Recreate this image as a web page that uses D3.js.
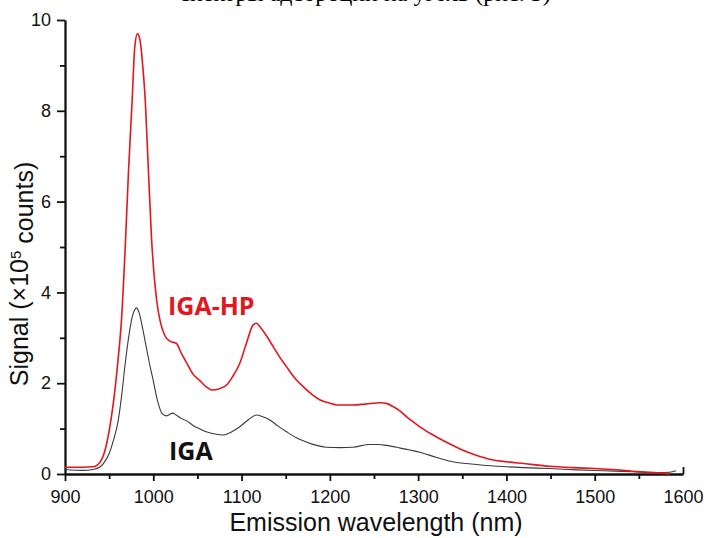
<!DOCTYPE html>
<html>
<head>
<meta charset="utf-8">
<script src="https://cdn.jsdelivr.net/npm/d3@7"></script>
<style>
  body { margin: 0; background: #fff; }
  svg { display: block; font-family: "Liberation Sans", Arial, sans-serif; }
</style>
</head>
<body>
<svg id="chart" width="707" height="538"></svg>
<script>
// IGA-HP spectrum (red), signal in 1e5 counts
const hpWavelength = [900, 920, 932, 938, 945, 950, 955, 960, 964, 968, 972, 976, 979, 982, 985, 988, 991, 994, 998, 1004, 1008, 1013, 1019, 1026, 1032, 1038, 1045, 1053, 1060, 1066, 1075, 1083, 1090, 1098, 1105, 1113, 1117, 1121, 1128, 1136, 1143, 1151, 1160, 1170, 1180, 1189, 1200, 1208, 1226, 1240, 1257, 1265, 1272, 1280, 1287, 1295, 1302, 1315, 1325, 1336, 1350, 1365, 1375, 1385, 1400, 1420, 1449, 1475, 1500, 1520, 1543, 1560, 1575, 1585]
const hpSignal = [0.15, 0.15, 0.16, 0.22, 0.5, 0.95, 1.6, 2.5, 3.4, 4.9, 6.7, 8.2, 9.4, 9.7, 9.55, 9.0, 8.2, 6.9, 5.2, 3.8, 3.35, 3.05, 2.92, 2.88, 2.65, 2.44, 2.2, 2.05, 1.92, 1.85, 1.88, 1.96, 2.15, 2.44, 2.85, 3.28, 3.32, 3.24, 3.05, 2.8, 2.58, 2.36, 2.12, 1.92, 1.75, 1.63, 1.56, 1.52, 1.52, 1.54, 1.57, 1.55, 1.48, 1.38, 1.26, 1.14, 1.04, 0.88, 0.77, 0.66, 0.53, 0.42, 0.36, 0.31, 0.27, 0.23, 0.17, 0.14, 0.12, 0.1, 0.06, 0.04, 0.02, 0.0]

// IGA spectrum (black)
const igaWavelength = [900, 920, 932, 940, 946, 950, 955, 960, 964, 968, 972, 976, 979, 981, 984, 988, 991, 995, 1000, 1005, 1010, 1015, 1022, 1026, 1032, 1038, 1045, 1052, 1060, 1070, 1079, 1088, 1098, 1108, 1117, 1124, 1132, 1141, 1151, 1162, 1174, 1185, 1196, 1212, 1226, 1245, 1255, 1264, 1280, 1302, 1320, 1336, 1360, 1390, 1420, 1449, 1480, 1510, 1543, 1570, 1585, 1592]
const igaSignal = [0.1, 0.08, 0.1, 0.16, 0.3, 0.45, 0.75, 1.15, 1.7, 2.4, 3.0, 3.45, 3.62, 3.66, 3.55, 3.2, 2.9, 2.5, 2.05, 1.6, 1.33, 1.28, 1.34, 1.3, 1.22, 1.17, 1.07, 1.0, 0.93, 0.88, 0.86, 0.92, 1.04, 1.2, 1.3, 1.26, 1.19, 1.06, 0.93, 0.8, 0.7, 0.63, 0.59, 0.58, 0.59, 0.65, 0.65, 0.63, 0.57, 0.48, 0.37, 0.28, 0.22, 0.17, 0.14, 0.12, 0.09, 0.07, 0.05, 0.03, 0.04, 0.07]

const xTicks = [900, 1000, 1100, 1200, 1300, 1400, 1500, 1600]
const xMinorTicks = [950, 1050, 1150, 1250, 1350, 1450, 1550]
const yTicks = [0, 2, 4, 6, 8, 10]
const yMinorTicks = [1, 3, 5, 7, 9]
const seriesNames = ["IGA-HP", "IGA"]

const width = 707
const height = 538
const margin = {top: 20, right: 24, bottom: 64, left: 65}

const $svg = d3.select("#chart")

const x = d3.scaleLinear()
    .domain([900, 1600])
    .range([margin.left, width - margin.right])

const y = d3.scaleLinear()
    .domain([0, 10])
    .range([height - margin.bottom, margin.top])

// cropped caption line from the page above the figure
$svg.append("text")
    .attr("x", 365)
    .attr("y", 1)
    .attr("text-anchor", "middle")
    .style("font-family", "'Liberation Serif', serif")
    .style("font-size", "24px")
    .text("спектры адсорбции на уголь (рис. 3)")

//axes
const xAxis = g => g.attr("transform", `translate(0, ${y(0)})`)
    .call(d3.axisBottom(x).tickValues(xTicks).tickSize(7).tickSizeOuter(0).tickPadding(9).tickFormat(d3.format("d")))

const xMinor = g => g.attr("transform", `translate(0, ${y(0)})`)
    .call(d3.axisBottom(x).tickValues(xMinorTicks).tickSize(5).tickSizeOuter(0).tickFormat(""))

const yAxis = g => g.attr("transform", `translate(${x(900)}, 0)`)
    .call(d3.axisLeft(y).tickValues(yTicks).tickSize(8).tickSizeOuter(0).tickPadding(6))

const yMinor = g => g.attr("transform", `translate(${x(900)}, 0)`)
    .call(d3.axisLeft(y).tickValues(yMinorTicks).tickSize(5).tickSizeOuter(0).tickFormat(""))

$svg.append("g").call(xMinor)
$svg.append("g").call(yMinor)
const $xAxis = $svg.append("g").call(xAxis)
$svg.append("g").call(yAxis)

// last tick on the x axis points upward
$xAxis.selectAll(".tick")
    .filter(d => d === 1600)
    .select("line")
    .attr("y2", -7)

$svg.selectAll(".domain, .tick line")
    .attr("stroke", "#111")
    .attr("stroke-width", 1.8)

$svg.selectAll(".tick text")
    .attr("fill", "#111")
    .style("font-size", "18px")
    .style("font-family", "'Liberation Sans', Arial, sans-serif")

//axis titles
$svg.append("text")
    .attr("x", 376)
    .attr("y", 531)
    .attr("text-anchor", "middle")
    .attr("fill", "#111")
    .style("font-size", "25px")
    .text("Emission wavelength (nm)")

const $yTitle = $svg.append("text")
    .attr("transform", "translate(28, 274) rotate(-90)")
    .attr("text-anchor", "middle")
    .attr("fill", "#111")
    .style("font-size", "25px")
$yTitle.append("tspan").text("Signal (×10")
$yTitle.append("tspan").attr("dy", "-0.45em").style("font-size", "15px").text("5")
$yTitle.append("tspan").attr("dy", "0.45em").text(" counts)")

//lines
const line = d3.line()
    .x(d => x(d[0]))
    .y(d => y(d[1]))
    .curve(d3.curveMonotoneX)

const igaData = d3.zip(igaWavelength, igaSignal)
const hpData = d3.zip(hpWavelength, hpSignal)

$svg.append("path")
    .datum(igaData)
    .attr("fill", "none")
    .attr("stroke", "#3a3a3a")
    .attr("stroke-width", 1.1)
    .attr("d", line)

$svg.append("path")
    .datum(hpData)
    .attr("fill", "none")
    .attr("stroke", "#e3161e")
    .attr("stroke-width", 1.6)
    .attr("d", line)

//series labels
$svg.append("text")
    .attr("x", 168)
    .attr("y", 315)
    .attr("fill", "#e3161e")
    .style("font-family", "'Open Sans', sans-serif")
    .style("font-weight", 700)
    .style("font-size", "25px")
    .text(seriesNames[0])

$svg.append("text")
    .attr("x", 169)
    .attr("y", 460)
    .attr("fill", "#111")
    .style("font-family", "'Open Sans', sans-serif")
    .style("font-weight", 700)
    .style("font-size", "25px")
    .text(seriesNames[1])
</script>
</body>
</html>
